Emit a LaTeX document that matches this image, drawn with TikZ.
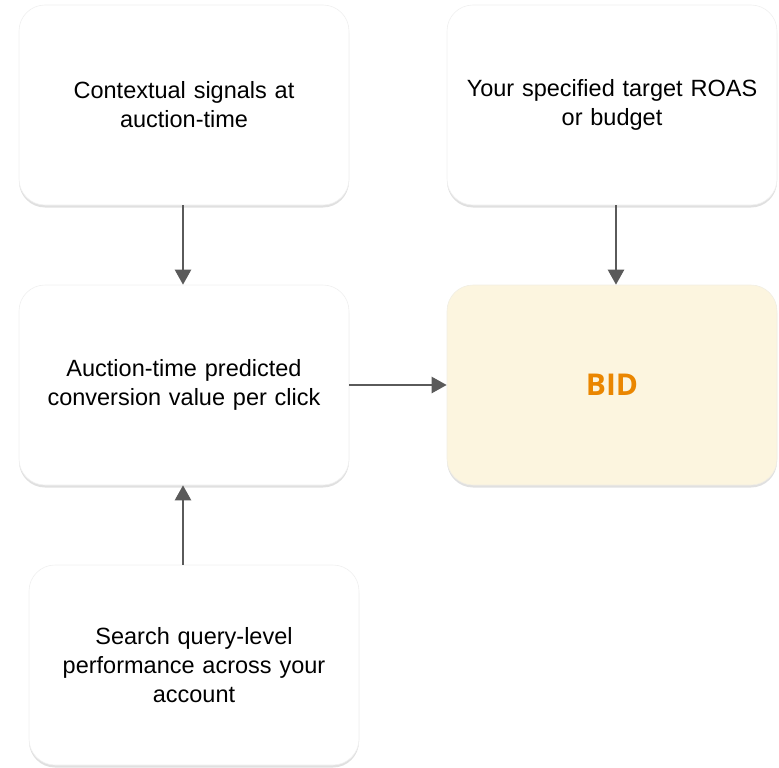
\documentclass[tikz,border=0pt]{standalone}
\usepackage{fontspec}
\setmainfont{Liberation Sans}
\newfontfamily\bidfont{Open Sans}
\usetikzlibrary{shadows,arrows.meta}
\definecolor{arrowgray}{HTML}{5A5A5A}
\definecolor{bidfill}{HTML}{FCF5DF}
\definecolor{bidtext}{HTML}{EA8600}
\begin{document}
\begin{tikzpicture}[x=1pt,y=-1pt,
  card/.style={draw=black!6, line width=0.6pt, fill=white, rounded corners=26pt,
     minimum width=330pt, minimum height=200pt, align=center, text width=320pt,
     font=\fontsize{23.5}{29}\selectfont, inner sep=0pt,
     drop shadow={shadow xshift=0pt, shadow yshift=-2.5pt, opacity=0.12, fill=black}},
  conn/.style={draw=arrowgray, line width=2.4pt, -{Triangle[length=15pt,width=16pt]}}]
\useasboundingbox (0,0) rectangle (779,768);
\node[card] (ctx) at (184,105) {Contextual signals at\\auction-time};
\node[card] (roas) at (612,105) {Your specified target ROAS\\or budget};
\node[card] (pred) at (184,385) {Auction-time predicted\\conversion value per click};
\node[card, fill=bidfill, draw=bidfill!90!black!50, font=\bidfont\bfseries\fontsize{30}{34}\selectfont, text=bidtext] (bid) at (612,385) {BID};
\node[card] (sq) at (194,665) {Search query-level\\performance across your\\account};
\draw[conn] (ctx.south -| 183,0) -- (pred.north -| 183,0);
\draw[conn] (roas.south -| 616,0) -- (bid.north -| 616,0);
\draw[conn] (pred.east) -- (bid.west);
\draw[conn] (sq.north -| 183,0) -- (pred.south -| 183,0);
\end{tikzpicture}
\end{document}
